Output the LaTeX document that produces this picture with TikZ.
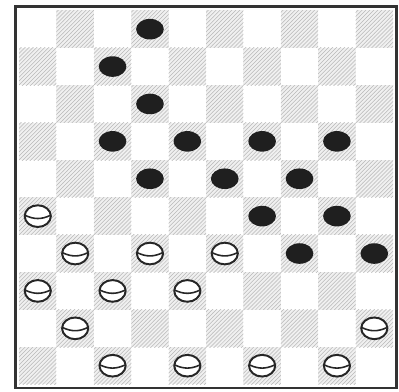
\documentclass[tikz,border=0pt]{standalone}
\usetikzlibrary{shapes.geometric,patterns}

\tikzset{
  darksq/.style={fill=gray!12, postaction={pattern=north east lines, pattern color=gray!55}},
  frame/.style={draw=black!80, line width=2pt},
  blackman/.style={ellipse, fill=black!88, inner sep=0pt, minimum width=0.74cm, minimum height=0.55cm},
  whiteman/.style={ellipse, draw=black!85, fill=white, line width=1.5pt, inner sep=0pt,
    minimum width=0.7cm, minimum height=0.58cm,
    path picture={\draw[black!85, line width=1.2pt]
      ([xshift=0.6pt,yshift=0.5pt]path picture bounding box.west) to[bend right=25]
      ([xshift=-0.6pt,yshift=0.5pt]path picture bounding box.east);}}
}

\begin{document}
\begin{tikzpicture}[x=1cm, y=1cm]
			\useasboundingbox (-0.51,-0.2) rectangle (10.16,10.28);

			% Поле
			\foreach \i in {0,...,9}
				\foreach \j in {0,...,9}{
					\pgfmathparse{int(mod(\i+\j,2))}
					\ifnum\pgfmathresult=0 \fill[darksq] (\j,\i) rectangle ++(1,1); \fi
				}
			\draw[frame] (-0.1,-0.1) rectangle (10.1,10.1);

			% Чёрные шашки
			\foreach \c/\r [count=\n] in {3/9, 2/8, 3/7, 2/6, 4/6, 6/6, 8/6, 3/5, 5/5, 7/5, 6/4, 8/4, 7/3, 9/3}
					\node[blackman] (b\n) at (\c+0.5,\r+0.5) {};

			% Белые шашки
			\foreach \c/\r [count=\n] in {0/4, 1/3, 3/3, 5/3, 0/2, 2/2, 4/2, 1/1, 9/1, 2/0, 4/0, 6/0, 8/0}
					\node[whiteman] (w\n) at (\c+0.5,\r+0.5) {};
		\end{tikzpicture}
\end{document}
